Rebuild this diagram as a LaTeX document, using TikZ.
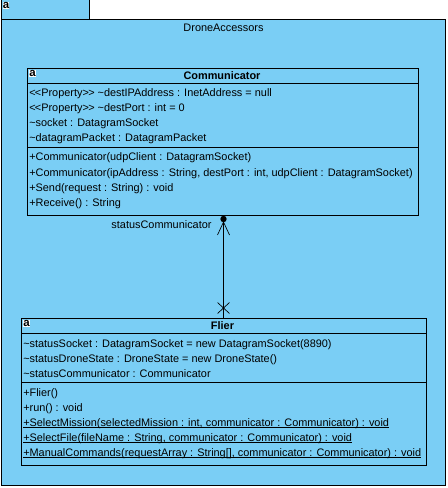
\documentclass[tikz,border=0pt]{standalone}
\usepackage{fontspec}
\setmainfont{Liberation Sans}
\definecolor{pkgblue}{RGB}{122,206,245}
\newcommand{\undertext}[1]{\setbox0=\hbox{#1}\rlap{\rule[-1.7pt]{\wd0}{0.6pt}}\box0}
\tikzset{
	umlbox/.style={draw=black, fill=pkgblue, line width=0.75pt, inner sep=0pt},
	member/.style={anchor=base west, inner sep=0pt, font=\fontsize{8.18pt}{10pt}\selectfont},
	classname/.style={inner sep=0pt, font=\fontsize{8.18pt}{10pt}\selectfont\bfseries},
	iconbox/.style={fill=white, inner sep=0.2pt, font=\fontsize{8.6pt}{9pt}\selectfont\bfseries},
	umlline/.style={line width=0.75pt},
	endline/.style={line width=0.5pt}
}
\begin{document}
\begin{tikzpicture}[x=0.75pt, y=-0.75pt]
	\useasboundingbox (0,0) rectangle (447,488);
	% package
	\node (tab) [umlbox, minimum width=66pt, minimum height=15pt] at (45.5,9.5) {};
	\node (pkg) [umlbox, minimum width=333pt, minimum height=349.5pt] at (223.5,252.5) {};
	\node (tabicon) [iconbox] at (6,5.5) {a};
	\node (pkgname) [inner sep=0pt, font=\fontsize{8.18pt}{10pt}\selectfont] at (223.5,28) {DroneAccessors};
	% Communicator
	\node (comm) [umlbox, minimum width=293.25pt, minimum height=110.25pt] at (223,142) {};
	\node (commicon) [iconbox] at (32.5,73.5) {a};
	\node (commname) [classname] at (222,76) {Communicator};
	\draw[umlline] (comm.west |- 0,83.5) -- (comm.east |- 0,83.5);
	\draw[umlline] (comm.west |- 0,147.5) -- (comm.east |- 0,147.5);
	\node (commA) [member] at (29,97) {<\kern-0.5pt<Property>\kern-0.5pt> \textasciitilde destIPAddress : InetAddress = null};
	\node (commB) [member] at (29,112) {<\kern-0.5pt<Property>\kern-0.5pt> \textasciitilde destPort : int = 0};
	\node (commC) [member] at (29,127) {\textasciitilde socket : DatagramSocket};
	\node (commD) [member] at (29,142) {\textasciitilde datagramPacket : DatagramPacket};
	\node (commE) [member] at (29,161) {+Communicator(udpClient : DatagramSocket)};
	\node (commF) [member] at (29,176) {+Communicator(ipAddress : String, destPort : int, udpClient : DatagramSocket)};
	\node (commG) [member] at (29,191) {+Send(request : String) : void};
	\node (commH) [member] at (29,206) {+Receive() : String};
	% Flier
	\node (flier) [umlbox, minimum width=303.75pt, minimum height=110.25pt] at (224,392) {};
	\node (fliericon) [iconbox] at (26.5,323.5) {a};
	\node (fliername) [classname] at (222.5,326) {Flier};
	\draw[umlline] (flier.west |- 0,333.5) -- (flier.east |- 0,333.5);
	\draw[umlline] (flier.west |- 0,382.5) -- (flier.east |- 0,382.5);
	\node (flierA) [member] at (23,347) {\textasciitilde statusSocket : DatagramSocket = new DatagramSocket(8890)};
	\node (flierB) [member] at (23,362) {\textasciitilde statusDroneState : DroneState = new DroneState()};
	\node (flierC) [member] at (23,377) {\textasciitilde statusCommunicator : Communicator};
	\node (flierD) [member] at (23,396) {+Flier()};
	\node (flierE) [member] at (23,411) {+run() : void};
	\node (flierF) [member] at (23,426) {\undertext{+SelectMission(selectedMission : int, communicator : Communicator) : void}};
	\node (flierG) [member] at (23,441) {\undertext{+SelectFile(fileName : String, communicator : Communicator) : void}};
	\node (flierH) [member] at (23,456) {\undertext{+ManualCommands(requestArray : String[], communicator : Communicator) : void}};
	% association
	\coordinate (top) at ([xshift=0.375pt]comm.south);
	\coordinate (bottom) at (top |- flier.north);
	\coordinate (headL) at (217.5,235);
	\coordinate (headT) at (223.5,222);
	\coordinate (headR) at (229.5,235);
	\coordinate (crossM) at (223.5,308);
	\draw[umlline] (top) -- (bottom);
	\fill (223.5,219) circle (3.2);
	\draw[endline] (headL) -- (headT) -- (headR);
	\draw[endline] ([shift={(-6,-5.5)}]crossM) -- ([shift={(6,5.5)}]crossM);
	\draw[endline] ([shift={(-6,5.5)}]crossM) -- ([shift={(6,-5.5)}]crossM);
	\node (rolename) [inner sep=0pt, font=\fontsize{8.18pt}{10pt}\selectfont] at (161.5,224.5) {statusCommunicator};
\end{tikzpicture}
\end{document}
